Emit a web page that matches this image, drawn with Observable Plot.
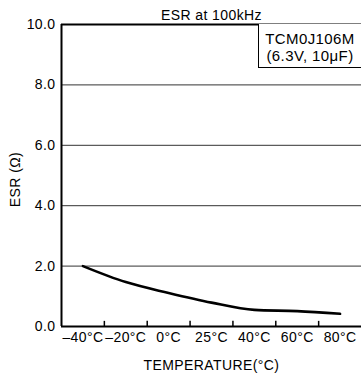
<!DOCTYPE html>
<html>
<head>
<meta charset="utf-8">
<script src="https://cdn.jsdelivr.net/npm/d3@7"></script>
<script src="https://cdn.jsdelivr.net/npm/@observablehq/plot@0.6"></script>
<style>
  html, body { margin: 0; padding: 0; background: #fff; }
  #wrap { position: relative; width: 361px; height: 376px; font-family: "Liberation Sans", Arial, sans-serif; }
  #wrap svg text { letter-spacing: 0.4px; }
  #legend {
    position: absolute; left: 258px; top: 24px; width: 103px; height: 44px;
    box-sizing: border-box; border-left: 1px solid #000; border-bottom: 1px solid #000;
    text-align: center; font-size: 15px; line-height: 17px; letter-spacing: 0.4px; color: #000;
    padding-top: 6px; background: #fff;
  }
</style>
</head>
<body>
<div id="wrap"></div>
<script>
const temperatures = ["–40°C", "–20°C", "0°C", "25°C", "40°C", "60°C", "80°C"];
const esr = [2.0, 1.47, 1.11, 0.79, 0.55, 0.51, 0.42];
const yTicks = [0, 2, 4, 6, 8, 10];
const title = "ESR at 100kHz";
const xLabel = "TEMPERATURE(°C)";
const yLabel = "ESR (Ω)";
const legendLines = ["TCM0J106M", "(6.3V, 10μF)"];

const idx = temperatures.map((_, i) => i);
const data = idx.map(i => ({i, t: temperatures[i], v: esr[i]}));
const bounds = idx.slice(1).map(i => i - 0.5);
const gridLines = yTicks.filter(t => t > 0 && t < 10);
const tickLen = 0.17; // inward tick length along y (≈5px)

const chart = Plot.plot({
  width: 361,
  height: 376,
  marginLeft: 61,
  marginRight: 0,
  marginTop: 24,
  marginBottom: 50,
  style: {fontFamily: "'Liberation Sans', Arial, sans-serif", fontSize: "14px", color: "#000", background: "#fff"},
  x: {type: "linear", domain: [-0.5, temperatures.length - 0.5]},
  y: {domain: [0, 10]},
  marks: [
    Plot.ruleY(gridLines, {stroke: "#333", strokeWidth: 1}),
    Plot.axisY({ticks: yTicks, tickSize: 0, tickPadding: 6, tickFormat: d => d.toFixed(1), label: null}),
    Plot.axisX({ticks: idx, tickSize: 0, tickPadding: 6, tickFormat: i => temperatures[i], label: null}),
    Plot.ruleX(bounds, {x: d => d, y1: () => 0, y2: () => tickLen, stroke: "#000", strokeWidth: 1.5}),
    Plot.line(data, {x: "i", y: "v", stroke: "#000", strokeWidth: 2.6, curve: "monotone-x"}),
    Plot.ruleY([0, 10], {stroke: "#000", strokeWidth: 2}),
    Plot.ruleX([-0.5], {stroke: "#000", strokeWidth: 2}),
    Plot.text([title], {frameAnchor: "top", lineAnchor: "middle", dy: -9}),
    Plot.text([xLabel], {frameAnchor: "bottom", lineAnchor: "middle", dy: 39.5}),
    Plot.text([yLabel], {frameAnchor: "left", lineAnchor: "middle", textAnchor: "middle", rotate: -90, dx: -45.5, dy: 4})
  ]
});
const wrap = document.getElementById("wrap");
wrap.appendChild(chart);
const legend = document.createElement("div");
legend.id = "legend";
legend.innerHTML = legendLines.map(s => `<div>${s}</div>`).join("");
wrap.appendChild(legend);
</script>
</body>
</html>
